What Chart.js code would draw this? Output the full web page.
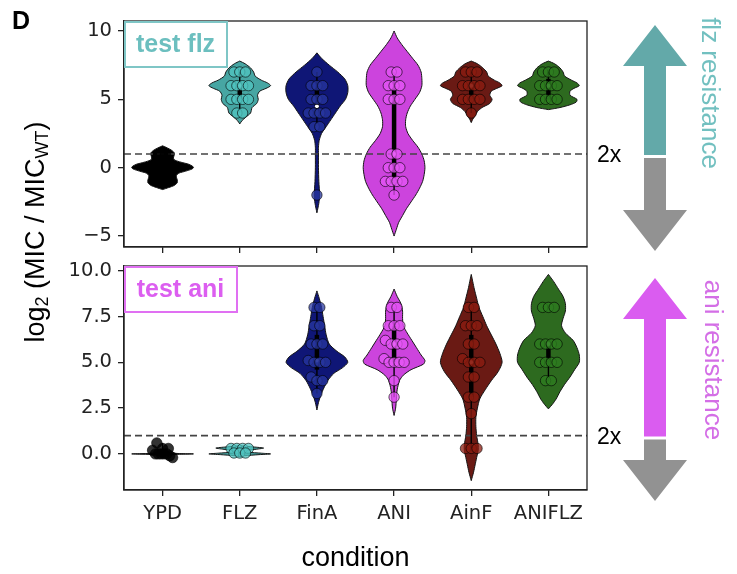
<!DOCTYPE html>
<html>
<head>
<meta charset="utf-8">
<script src="https://cdn.jsdelivr.net/npm/chart.js@4.4.0/dist/chart.umd.min.js"></script>
<style>
  body { margin: 0; background: #fff; }
  #wrap { position: relative; width: 737px; height: 574px; }
  #wrap canvas { position: absolute; left: 0; top: 0; }
</style>
</head>
<body>
<div id="wrap">
  <canvas id="flzChart" width="737" height="574"></canvas>
  <canvas id="aniChart" width="737" height="574"></canvas>
</div>
<script>
// conditions on the x axis
const conditions = ['YPD', 'FLZ', 'FinA', 'ANI', 'AinF', 'ANIFLZ'];
const violinColors = ['#000000', '#47a6a3', '#0f1676', '#cc44dd', '#6a1a14', '#2d6a1f'];
const pointColors = ['rgba(0,0,0,0.8)', 'rgba(80,196,192,0.75)', 'rgba(40,55,160,0.75)',
                     'rgba(230,85,245,0.75)', 'rgba(140,28,16,0.75)', 'rgba(45,125,32,0.75)'];

// tick labels
const flzTicks = [-5, 0, 5, 10];
const aniTicks = [0, 2.5, 5, 7.5, 10];

// test flz: log2(MIC/MICwt) of each strain
const flzPoints = [
  [1, 1, 0, 0, 0, 0, 0, 0, 0, 0, -1, -1, -1],
  [7, 7, 7, 6, 6, 6, 6, 5, 5, 5, 5, 4, 4],
  [7, 6, 6, 6, 5, 5, 5, 4, 4, 4, 4, 3, 3, -2],
  [7, 7, 6, 6, 6, 5, 5, 5, 1, 1, 0, 0, 0, -1, -1, -1, -1, -2],
  [7, 7, 7, 6, 6, 6, 6, 5, 5, 5, 5, 4],
  [7, 7, 7, 6, 6, 6, 6, 5, 5, 5, 5]
];
// test flz: violin outline, levels and half widths
const flzLevels = [
  [1.6, 1.45, 1.3, 1.1, 0.9, 0.7, 0.55, 0.4, 0.25, 0.1, 0, -0.1, -0.25, -0.4, -0.55, -0.7, -0.9, -1.1, -1.3, -1.45, -1.6],
  [7.8, 7.6, 7.3, 7.0, 6.7, 6.4, 6.2, 6.0, 5.8, 5.6, 5.3, 5.0, 4.7, 4.4, 4.0, 3.7, 3.45, 3.2],
  [8.4, 8.0, 7.5, 7.0, 6.5, 6.0, 5.5, 5.0, 4.5, 4.0, 3.5, 3.0, 2.5, 2.0, 1.5, 1.0, 0, -1, -2, -2.6, -3.3],
  [10, 9.5, 9, 8.5, 8, 7.5, 7, 6.5, 6, 5.5, 5, 4.5, 4, 3.5, 3, 2.5, 2, 1.5, 1, 0.5, 0, -0.5, -1, -1.5, -2, -2.5, -3, -3.5, -4, -4.5, -5],
  [7.8, 7.6, 7.3, 7.0, 6.7, 6.4, 6.2, 6.0, 5.8, 5.6, 5.3, 5.0, 4.7, 4.4, 4.1, 3.8, 3.55, 3.3],
  [7.8, 7.6, 7.3, 7.0, 6.7, 6.4, 6.2, 6.0, 5.8, 5.6, 5.3, 5.0, 4.8, 4.6, 4.4, 4.25]
];
const flzWidths = [
  [0, 0.06, 0.11, 0.15, 0.15, 0.14, 0.16, 0.24, 0.34, 0.39, 0.40, 0.38, 0.30, 0.21, 0.18, 0.18, 0.19, 0.19, 0.15, 0.08, 0],
  [0, 0.07, 0.14, 0.18, 0.20, 0.28, 0.36, 0.40, 0.34, 0.26, 0.23, 0.24, 0.22, 0.16, 0.14, 0.08, 0.03, 0],
  [0, 0.06, 0.16, 0.27, 0.36, 0.40, 0.40, 0.37, 0.30, 0.24, 0.18, 0.12, 0.06, 0.03, 0.02, 0.02, 0.02, 0.025, 0.035, 0.025, 0],
  [0, 0.04, 0.10, 0.17, 0.24, 0.31, 0.35, 0.36, 0.36, 0.33, 0.27, 0.21, 0.17, 0.15, 0.15, 0.18, 0.24, 0.31, 0.36, 0.39, 0.40, 0.39, 0.37, 0.33, 0.28, 0.22, 0.16, 0.11, 0.06, 0.03, 0],
  [0, 0.08, 0.15, 0.20, 0.22, 0.30, 0.37, 0.40, 0.33, 0.26, 0.24, 0.27, 0.24, 0.14, 0.08, 0.05, 0.02, 0],
  [0, 0.08, 0.15, 0.19, 0.21, 0.30, 0.37, 0.40, 0.33, 0.28, 0.28, 0.37, 0.36, 0.28, 0.15, 0]
];

// test ani
const aniPoints = [
  [0.6, 0.3, 0.3, 0.2, 0, 0, 0, 0, 0, -0.1, -0.2],
  [0.3, 0.3, 0.3, 0.3, 0.05, 0.05, 0.05],
  [8, 8, 7, 7, 6, 6, 6, 5.1, 5, 5, 5, 4.2, 4, 4, 3.3],
  [8, 8, 7, 7, 7, 6.2, 6, 6, 6, 5.2, 5, 5, 5, 5, 4, 3.1],
  [8, 8, 7, 7, 7, 6, 6, 5.2, 5, 5, 5, 4.2, 4.2, 3.1, 3.1, 2.2, 0.3, 0.3, 0.3],
  [8, 8, 8, 6, 6, 6, 6, 5, 5, 5, 5, 4, 4]
];
const aniLevels = [
  [0.2, 0.12, 0.06, 0.02, 0, -0.02, -0.06, -0.12, -0.2],
  [0.45, 0.38, 0.32, 0.26, 0.18, 0.1, 0.04, 0, -0.04, -0.1, -0.15],
  [8.9, 8.5, 8.0, 7.5, 7.0, 6.5, 6.0, 5.6, 5.3, 5.0, 4.7, 4.4, 4.0, 3.6, 3.2, 2.8, 2.4],
  [9.0, 8.6, 8.2, 7.8, 7.4, 7.0, 6.6, 6.2, 5.8, 5.4, 5.1, 4.9, 4.6, 4.3, 4.0, 3.5, 3.0, 2.5, 2.1],
  [9.8, 9.4, 9.0, 8.5, 8.0, 7.5, 7.0, 6.5, 6.0, 5.5, 5.0, 4.5, 4.0, 3.5, 3.0, 2.5, 2.0, 1.5, 1.0, 0.5, 0.2, -0.2, -0.6, -1.0, -1.46],
  [9.8, 9.4, 9.0, 8.6, 8.2, 7.8, 7.4, 7.0, 6.6, 6.2, 5.8, 5.4, 5.0, 4.6, 4.2, 3.8, 3.4, 3.0, 2.7, 2.46]
];
const aniWidths = [
  [0, 0.03, 0.08, 0.22, 0.40, 0.22, 0.08, 0.03, 0],
  [0, 0.18, 0.31, 0.22, 0.08, 0.10, 0.28, 0.40, 0.25, 0.06, 0],
  [0, 0.03, 0.06, 0.08, 0.10, 0.12, 0.16, 0.26, 0.36, 0.40, 0.33, 0.22, 0.14, 0.09, 0.05, 0.02, 0],
  [0, 0.04, 0.09, 0.11, 0.11, 0.12, 0.17, 0.23, 0.29, 0.35, 0.40, 0.38, 0.22, 0.12, 0.07, 0.04, 0.03, 0.02, 0],
  [0, 0.02, 0.04, 0.07, 0.10, 0.15, 0.20, 0.26, 0.32, 0.37, 0.40, 0.35, 0.26, 0.18, 0.11, 0.08, 0.06, 0.06, 0.07, 0.09, 0.09, 0.07, 0.05, 0.03, 0],
  [0, 0.07, 0.13, 0.19, 0.22, 0.22, 0.19, 0.17, 0.22, 0.32, 0.37, 0.40, 0.40, 0.34, 0.28, 0.21, 0.15, 0.10, 0.05, 0]
];

const SANS = '"Liberation Sans", Arial, Helvetica, sans-serif';
const TICKFONT = { family: '"DejaVu Sans", sans-serif', size: 19.5 };
const AXIS = '#222';

function quantile(sorted, p) {
  const pos = (sorted.length - 1) * p;
  const lo = Math.floor(pos);
  const hi = Math.ceil(pos);
  return sorted[lo] + (sorted[hi] - sorted[lo]) * (pos - lo);
}

// spread strains with (about) the same value side by side
function offsetsFor(values) {
  const groups = {};
  values.forEach((v, k) => {
    const key = Math.round(v * 2) / 2;
    (groups[key] = groups[key] || []).push(k);
  });
  const out = new Array(values.length).fill(0);
  Object.values(groups).forEach(idx => {
    const step = idx.length > 1 ? Math.min(0.075, 0.26 / (idx.length - 1)) : 0;
    idx.forEach((k, j) => { out[k] = (j - (idx.length - 1) / 2) * step; });
  });
  return out;
}

function buildDatasets(levels, widths, points) {
  const sets = [];
  sets.push({
    type: 'line', data: [{ x: -0.5, y: 1 }, { x: 5.5, y: 1 }],
    borderColor: '#444', borderWidth: 1.6, borderDash: [7, 4], pointRadius: 0, order: 4
  });
  conditions.forEach((name, i) => {
    const left = levels[i].map((y, k) => ({ x: i - widths[i][k], y }));
    const right = levels[i].map((y, k) => ({ x: i + widths[i][k], y })).reverse();
    sets.push({
      type: 'line', data: left.concat(right), fill: 'shape',
      backgroundColor: violinColors[i], borderColor: '#151515', borderWidth: 1,
      pointRadius: 0, tension: 0.25, order: 5
    });

    const sorted = points[i].slice().sort((a, b) => a - b);
    const q1 = quantile(sorted, 0.25), med = quantile(sorted, 0.5), q3 = quantile(sorted, 0.75);
    const iqr = q3 - q1;
    const lo = sorted.find(v => v >= q1 - 1.5 * iqr);
    const hi = sorted.slice().reverse().find(v => v <= q3 + 1.5 * iqr);
    sets.push({
      type: 'line', data: [{ x: i, y: lo }, { x: i, y: hi }],
      borderColor: '#000', borderWidth: 1.4, pointRadius: 0, order: 3
    });
    sets.push({
      type: 'line', data: [{ x: i, y: q1 }, { x: i, y: q3 }],
      borderColor: '#000', borderWidth: 4.5, borderCapStyle: 'butt', pointRadius: 0, order: 2
    });
    sets.push({
      data: [{ x: i, y: med }], pointRadius: 2, pointBackgroundColor: '#fff',
      pointBorderWidth: 0, order: 1
    });

    const offs = offsetsFor(points[i]);
    sets.push({
      data: points[i].map((y, k) => ({ x: i + offs[k], y })),
      pointRadius: 5.2, pointBackgroundColor: pointColors[i],
      pointBorderColor: 'rgba(0,0,0,0.6)', pointBorderWidth: 1, order: 0
    });
  });
  return sets;
}

function drawArrow(ctx, yMid, color, tipTop, tipBottom) {
  const cx = 655, shaft = 11, head = 32, headLen = 41;
  ctx.save();
  ctx.fillStyle = color;
  ctx.beginPath();
  ctx.moveTo(cx, tipTop);
  ctx.lineTo(cx + head, tipTop + headLen);
  ctx.lineTo(cx + shaft, tipTop + headLen);
  ctx.lineTo(cx + shaft, yMid + 1);
  ctx.lineTo(cx - shaft, yMid + 1);
  ctx.lineTo(cx - shaft, tipTop + headLen);
  ctx.lineTo(cx - head, tipTop + headLen);
  ctx.closePath();
  ctx.fill();
  ctx.fillStyle = '#929292';
  ctx.beginPath();
  ctx.moveTo(cx - shaft, yMid + 4);
  ctx.lineTo(cx + shaft, yMid + 4);
  ctx.lineTo(cx + shaft, tipBottom - headLen);
  ctx.lineTo(cx + head, tipBottom - headLen);
  ctx.lineTo(cx, tipBottom);
  ctx.lineTo(cx - head, tipBottom - headLen);
  ctx.lineTo(cx - shaft, tipBottom - headLen);
  ctx.closePath();
  ctx.fill();
  ctx.restore();
}

function decorPlugin(p) {
  return {
    id: 'decor',
    afterDraw(chart) {
      const ctx = chart.ctx;
      const a = chart.chartArea;
      const yOne = chart.scales.y.getPixelForValue(1);
      ctx.save();
      // frame
      ctx.strokeStyle = AXIS;
      ctx.lineWidth = 1.3;
      ctx.strokeRect(a.left, a.top, a.right - a.left, a.bottom - a.top);
      // label box
      ctx.font = 'bold 25px ' + SANS;
      ctx.fillStyle = '#fff';
      ctx.fillRect(a.left, a.top, p.boxW, 46);
      ctx.strokeStyle = p.boxColor;
      ctx.lineWidth = 2;
      ctx.strokeRect(a.left + 1, a.top + 1, p.boxW - 1, 45);
      ctx.fillStyle = p.textColor;
      ctx.textAlign = 'center';
      ctx.textBaseline = 'middle';
      ctx.fillText(p.label, a.left + p.boxW / 2, a.top + 24);
      // 2x
      ctx.fillStyle = '#000';
      ctx.font = '23px ' + SANS;
      ctx.textAlign = 'left';
      ctx.fillText('2x', a.right + 10, yOne + 2);
      // arrow
      drawArrow(ctx, yOne, p.arrowColor, a.top + p.tipTop, a.bottom + p.tipBottom);
      // rotated legend text
      ctx.translate(p.sideX, p.sideY);
      ctx.rotate(Math.PI / 2);
      ctx.font = '26px ' + SANS;
      ctx.fillStyle = p.sideColor;
      ctx.textAlign = 'center';
      ctx.fillText(p.side, 0, 0);
      ctx.restore();
      if (p.extra) p.extra(chart);
    }
  };
}

function drawOuterLabels(chart) {
  const ctx = chart.ctx;
  const a = chart.chartArea;
  ctx.save();
  ctx.fillStyle = '#000';
  ctx.font = 'bold 25px ' + SANS;
  ctx.textBaseline = 'alphabetic';
  ctx.fillText('D', 12, 29);
  ctx.font = '27px ' + SANS;
  ctx.textAlign = 'center';
  ctx.fillText('condition', (a.left + a.right) / 2, 566);
  // y label with subscripts
  const runs = [['log', 27, 0], ['2', 18, 6], [' (MIC / MIC', 27, 0], ['WT', 18, 6], [')', 27, 0]];
  let total = 0;
  runs.forEach(r => { ctx.font = r[1] + 'px ' + SANS; total += ctx.measureText(r[0]).width; });
  ctx.translate(37, 232);
  ctx.rotate(-Math.PI / 2);
  ctx.textAlign = 'left';
  ctx.textBaseline = 'middle';
  let x = -total / 2;
  runs.forEach(r => {
    ctx.font = r[1] + 'px ' + SANS;
    ctx.fillText(r[0], x, r[2]);
    x += ctx.measureText(r[0]).width;
  });
  ctx.restore();
}

function makeChart(id, cfg) {
  return new Chart(document.getElementById(id), {
    type: 'scatter',
    data: { datasets: buildDatasets(cfg.levels, cfg.widths, cfg.points) },
    options: {
      responsive: false, animation: false, devicePixelRatio: 1, events: [],
      layout: { padding: { left: 0, right: 150, top: cfg.top, bottom: 574 - cfg.bottom - cfg.xHeight } },
      plugins: { legend: { display: false }, tooltip: { enabled: false } },
      scales: {
        x: {
          type: 'linear', min: -0.5, max: 5.5,
          afterBuildTicks: s => { s.ticks = conditions.map((c, i) => ({ value: i })); },
          afterFit: s => { s.height = cfg.xHeight; },
          ticks: { display: cfg.showX, font: TICKFONT, color: '#222', padding: 6, callback: v => conditions[v] },
          grid: { drawOnChartArea: false, tickLength: 6, color: AXIS, lineWidth: 1.3 },
          border: { color: AXIS, width: 1.3 }
        },
        y: {
          min: cfg.yMin, max: cfg.yMax,
          afterBuildTicks: s => { s.ticks = cfg.ticks.map(v => ({ value: v })); },
          afterFit: s => { s.width = 124; },
          ticks: { font: TICKFONT, color: '#222', padding: 6, callback: cfg.fmt },
          grid: { drawOnChartArea: false, tickLength: 6, color: AXIS, lineWidth: 1.3 },
          border: { color: AXIS, width: 1.3 }
        }
      }
    },
    plugins: [decorPlugin(cfg.decor)]
  });
}

makeChart('flzChart', {
  levels: flzLevels, widths: flzWidths, points: flzPoints, ticks: flzTicks,
  yMin: -5.8, yMax: 10.73, top: 21, bottom: 247, xHeight: 20, showX: false,
  fmt: v => String(v).replace('-', '\u2212'),
  decor: {
    label: 'test flz', boxW: 103, boxColor: '#7fc6c6', textColor: '#6cbfbf',
    arrowColor: '#63a9a9', tipTop: 4, tipBottom: 4,
    side: 'flz resistance', sideColor: '#72c0c0', sideX: 709, sideY: 93
  }
});

makeChart('aniChart', {
  levels: aniLevels, widths: aniWidths, points: aniPoints, ticks: aniTicks,
  yMin: -1.97, yMax: 10.26, top: 266, bottom: 490, xHeight: 40, showX: true,
  fmt: v => v.toFixed(1),
  decor: {
    label: 'test ani', boxW: 113, boxColor: '#e070f2', textColor: '#dc5ef0',
    arrowColor: '#da5cf0', tipTop: 12, tipBottom: 11,
    side: 'ani resistance', sideColor: '#d46ee6', sideX: 712, sideY: 360,
    extra: drawOuterLabels
  }
});
</script>
</body>
</html>
